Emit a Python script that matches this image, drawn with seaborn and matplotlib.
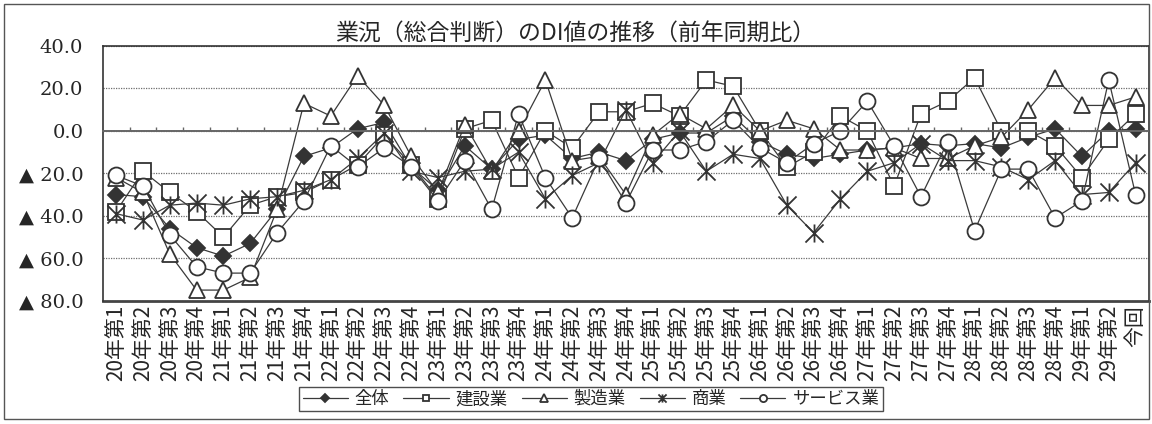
import numpy as np
import pandas as pd
import matplotlib
matplotlib.use("Agg")
import matplotlib.pyplot as plt
import seaborn as sns
from matplotlib.path import Path
from matplotlib.patches import Rectangle
from matplotlib.ticker import FixedLocator

# ---------------- data ----------------
periods = [
    "20年第1", "20年第2", "20年第3", "20年第4",
    "21年第1", "21年第2", "21年第3", "21年第4",
    "22年第1", "22年第2", "22年第3", "22年第4",
    "23年第1", "23年第2", "23年第3", "23年第4",
    "24年第1", "24年第2", "24年第3", "24年第4",
    "25年第1", "25年第2", "25年第3", "25年第4",
    "26年第1", "26年第2", "26年第3", "26年第4",
    "27年第1", "27年第2", "27年第3", "27年第4",
    "28年第1", "28年第2", "28年第3", "28年第4",
    "29年第1", "29年第2", "今回",
]
series_names = ["全体", "建設業", "製造業", "商業", "サービス業"]

zentai = [-30, -31, -46, -55, -59, -53, -37, -12,
          -8, 1, 4, -17, -28, -7, -18, -4,
          -2, -13, -10, -14, -4, -1, -1, 7,
          -5, -11, -13, -11, -9, -8, -6, -7,
          -6, -8, -3, 1, -12, 0, 1]
kensetsu = [-38, -19, -29, -38, -50, -35, -31, -29,
            -23, -16, -2, -16, -32, 1, 5, -22,
            0, -8, 9, 9, 13, 7, 24, 21,
            0, -17, -10, 7, 0, -26, 8, 14,
            25, 0, 0, -7, -22, -4, 8]
seizo = [-22, -29, -58, -75, -75, -69, -37, 13,
         7, 26, 12, -12, -29, 3, -19, 0,
         24, -14, -12, -30, -2, 8, 1, 12,
         0, 5, 1, -9, -9, -8, -13, -13,
         -7, -3, 10, 25, 12, 12, 16]
shogyo = [-39, -42, -35, -34, -35, -32, -31, -28,
          -23, -13, -1, -19, -22, -19, -18, -10,
          -32, -21, -15, 10, -15, 0, -19, -11,
          -13, -35, -48, -32, -19, -15, -6, -14,
          -14, -17, -23, -14, -30, -29, -15]
service = [-21, -26, -49, -64, -67, -67, -48, -33,
           -7, -17, -8, -17, -33, -14, -37, 8,
           -22, -41, -13, -34, -9, -9, -5, 5,
           -8, -15, -6, 0, 14, -7, -31, -5,
           -47, -18, -18, -41, -33, 24, -30]

ytick_values = [40, 20, 0, -20, -40, -60, -80]
ytick_labels = ["40.0", "20.0", "0.0", "▲ 20.0", "▲ 40.0", "▲ 60.0", "▲ 80.0"]
title_text = "業況（総合判断）のDI値の推移（前年同期比）"

# ---------------- style ----------------
sns.set_theme(style="white")
plt.rcParams['font.family'] = ['Noto Sans CJK JP', 'DejaVu Sans']
plt.rcParams['axes.unicode_minus'] = False

W, H = 1152, 424
fig = plt.figure(figsize=(W / 100, H / 100), dpi=100)
left_px, right_px, top_px, bottom_px = 102.7, 1149.0, 46.0, 300.7
ax = fig.add_axes([left_px / W, 1 - bottom_px / H,
                   (right_px - left_px) / W, (bottom_px - top_px) / H])

x_idx = np.arange(len(periods))
df = pd.DataFrame({"idx": x_idx, "全体": zentai, "建設業": kensetsu,
                   "製造業": seizo, "商業": shogyo, "サービス業": service})

# asterisk marker (Excel style: X plus vertical bar)
star_path = Path(
    [(0, -1), (0, 1), (-1, -1), (1, 1), (-1, 1), (1, -1)],
    [Path.MOVETO, Path.LINETO, Path.MOVETO, Path.LINETO, Path.MOVETO, Path.LINETO],
)

line_col = "#3a3a3a"
mk_col = "#333333"
styles = {
    "全体": dict(marker="D", markersize=8.6, markerfacecolor=mk_col, markeredgecolor=mk_col),
    "建設業": dict(marker="s", markersize=11, markerfacecolor="white", markeredgecolor=mk_col),
    "製造業": dict(marker="^", markersize=12, markerfacecolor="white", markeredgecolor=mk_col),
    "商業": dict(marker=star_path, markersize=13, markerfacecolor="none", markeredgecolor=mk_col),
    "サービス業": dict(marker="o", markersize=11.5, markerfacecolor="white", markeredgecolor=mk_col),
}

for name in series_names:
    sns.lineplot(data=df, x="idx", y=name, ax=ax, color=line_col, linewidth=0.9,
                 markeredgewidth=1.3, label=name, errorbar=None, **styles[name])

ax.set_xlim(-0.5, len(periods) - 0.5)
ax.set_ylim(-80, 40)
ax.set_xlabel("")
ax.set_ylabel("")

# y axis
ax.set_yticks(ytick_values)
ax.set_yticklabels(ytick_labels, fontsize=14, family=['DejaVu Serif', 'DejaVu Sans'])
ax.tick_params(axis='y', length=0, pad=14)
ax.yaxis.grid(True, linestyle=(0, (1, 1)), color="#6e6e6e", linewidth=0.9)
ax.xaxis.grid(False)

# zero line as x-axis with small upward ticks at category boundaries
ax.spines['bottom'].set_position(('data', 0))
ax.spines['bottom'].set_color("#666666")
ax.spines['bottom'].set_linewidth(1.4)
ax.set_xticks(x_idx)
ax.tick_params(axis='x', which='major', length=0, labelbottom=False)
ax.xaxis.set_minor_locator(FixedLocator(np.arange(0.5, len(periods) - 1, 1.0)))
ax.tick_params(axis='x', which='minor', direction='in', length=3.2, width=1.0,
               color="#666666", bottom=True)

for sp in ['left', 'top', 'right']:
    ax.spines[sp].set_color("#333333")
    ax.spines[sp].set_linewidth(1.2)

# category labels at the bottom of the plot area
sec = ax.secondary_xaxis('bottom')
sec.set_xticks(x_idx)
sec.set_xticklabels(periods, rotation=90, fontsize=15, va='top', ha='center')
sec.tick_params(axis='x', length=0, pad=3)
sec.spines['bottom'].set_color("#444444")
sec.spines['bottom'].set_linewidth(2.0)

# title
fig.text(575.5 / W, 1 - 33 / H, title_text, ha='center', va='center', fontsize=16.5)

# legend
handles, labels = ax.get_legend_handles_labels()
if ax.get_legend():
    ax.get_legend().remove()
leg = fig.legend(handles, labels, loc='center', bbox_to_anchor=(591 / W, 1 - 399 / H),
                 ncol=5, frameon=True, fancybox=False, fontsize=12.5, markerscale=0.45,
                 handlelength=2.6, handletextpad=0.4, columnspacing=0.8, borderpad=0.2)
leg.get_frame().set_edgecolor("#222222")
leg.get_frame().set_linewidth(1.0)

# outer chart border
fig.patches.append(Rectangle((4 / W, 1 - 419 / H), (1149 - 4) / W, (419 - 4) / H,
                             transform=fig.transFigure, fill=False,
                             edgecolor="#555555", linewidth=1.0))

fig.savefig("out.png", dpi=100)
